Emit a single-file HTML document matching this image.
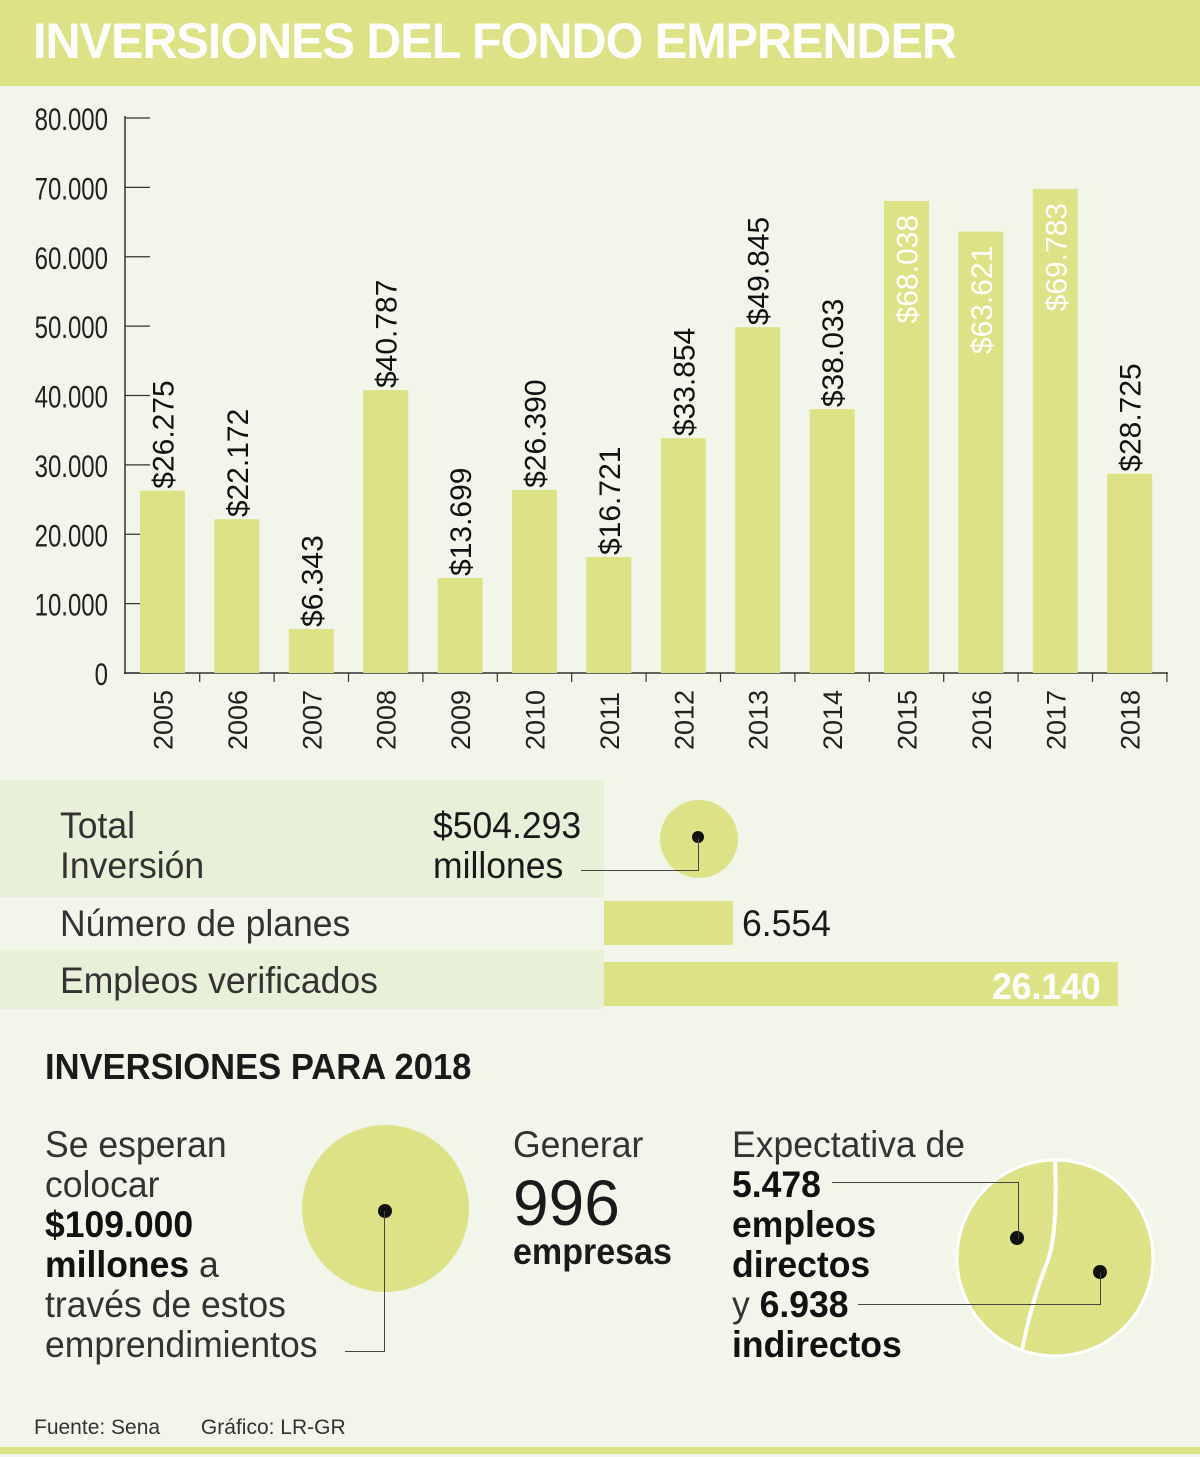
<!DOCTYPE html>
<html><head><meta charset="utf-8"><style>
body{margin:0;width:1200px;height:1457px;background:#f2f6ea;position:relative;overflow:hidden;font-family:"Liberation Sans",sans-serif;color:#1a1a1a}
.abs{position:absolute}
.hdr{left:0;top:0;width:1200px;height:86px;background:#dce285}
.hdr span{position:absolute;left:33px;top:12px;font:bold 50px "Liberation Sans",sans-serif;color:#fff;letter-spacing:-1px;transform:scaleX(0.97);transform-origin:left;white-space:nowrap}
.t{font-size:37px;line-height:40px;transform:scaleX(0.96);transform-origin:left;white-space:nowrap}
.b{font-weight:bold}
</style></head><body>
<div class="abs hdr"><span>INVERSIONES DEL FONDO EMPRENDER</span></div>
<svg class="abs" style="left:0;top:0" width="1200" height="770"><g id="g"></g></svg>

<div class="abs" style="left:0;top:780px;width:604px;height:117px;background:#e8f0da"></div>
<div class="abs" style="left:0;top:950px;width:604px;height:59px;background:#e8f0da"></div>
<div class="abs t" style="left:60px;top:806px;color:#333">Total<br>Inversión</div>
<div class="abs t" style="left:433px;top:806px">$504.293<br>millones</div>
<div class="abs" style="left:660px;top:800px;width:78px;height:78px;border-radius:50%;background:#dce285"></div>
<div class="abs" style="left:692px;top:831px;width:12px;height:12px;border-radius:50%;background:#111"></div>
<div class="abs" style="left:581px;top:838px;width:117px;height:32px;border-right:1.5px solid #444;border-bottom:1.5px solid #444"></div>
<div class="abs t" style="left:60px;top:904px;color:#333">Número de planes</div>
<div class="abs" style="left:604px;top:901px;width:129px;height:44px;background:#dce285"></div>
<div class="abs t" style="left:742px;top:904px">6.554</div>
<div class="abs t" style="left:60px;top:961px;color:#333">Empleos verificados</div>
<div class="abs" style="left:604px;top:962px;width:514px;height:44px;background:#dce285"></div>
<div class="abs t b" style="left:992px;top:967px;color:#fff">26.140</div>

<div class="abs b" style="left:45px;top:1046px;font:bold 36px 'Liberation Sans',sans-serif;transform:scaleX(0.96);transform-origin:left;white-space:nowrap">INVERSIONES PARA 2018</div>
<div class="abs t" style="left:45px;top:1125px;color:#333">Se esperan<br>colocar<br><b style="color:#111">$109.000</b><br><b style="color:#111">millones</b> a<br>través de estos<br>emprendimientos</div>
<div class="abs" style="left:302px;top:1125px;width:167px;height:167px;border-radius:50%;background:#dce285"></div>
<div class="abs" style="left:378px;top:1204px;width:14px;height:14px;border-radius:50%;background:#111"></div>
<div class="abs" style="left:345px;top:1211px;width:39px;height:140px;border-right:1.5px solid #444;border-bottom:1.5px solid #444"></div>
<div class="abs t" style="left:513px;top:1125px;color:#333">Generar</div>
<div class="abs" style="left:513px;top:1170px;font-size:64px;line-height:66px">996</div>
<div class="abs t b" style="left:513px;top:1232px;transform:scaleX(0.92)">empresas</div>
<div class="abs t" style="left:732px;top:1125px;color:#333">Expectativa de<br><b style="color:#111">5.478</b><br><b style="color:#111">empleos</b><br><b style="color:#111">directos</b><br>y <b style="color:#111">6.938</b><br><b style="color:#111">indirectos</b></div>
<svg class="abs" style="left:940px;top:1150px" width="230" height="215">
<circle cx="115" cy="108" r="98" fill="#dce285" stroke="#fff" stroke-width="3"/>
<path d="M115 10 Q118 80 108 110 Q92 150 82 200" fill="none" stroke="#fff" stroke-width="4"/>
<circle cx="77" cy="88" r="7" fill="#111"/><circle cx="160" cy="122" r="7" fill="#111"/>
</svg>
<div class="abs" style="left:832px;top:1182px;width:186px;height:56px;border-top:1.5px solid #444;border-right:1.5px solid #444"></div>
<div class="abs" style="left:858px;top:1272px;width:242px;height:32px;border-right:1.5px solid #444;border-bottom:1.5px solid #444"></div>
<div class="abs" style="left:34px;top:1416px;font-size:21px;color:#333;white-space:nowrap">Fuente: Sena &nbsp;&nbsp;&nbsp;&nbsp;&nbsp; Gráfico: LR-GR</div>
<div class="abs" style="left:0;top:1447px;width:1200px;height:7px;background:#dce285"></div>
<script>
const years=["2005","2006","2007","2008","2009","2010","2011","2012","2013","2014","2015","2016","2017","2018"];
const values=[26275,22172,6343,40787,13699,26390,16721,33854,49845,38033,68038,63621,69783,28725];
const labels=["$26.275","$22.172","$6.343","$40.787","$13.699","$26.390","$16.721","$33.854","$49.845","$38.033","$68.038","$63.621","$69.783","$28.725"];
const ticks=[0,10000,20000,30000,40000,50000,60000,70000,80000];
const tickLabels=["0","10.000","20.000","30.000","40.000","50.000","60.000","70.000","80.000"];
const NS="http://www.w3.org/2000/svg",g=document.getElementById('g');
const y=v=>673-v*555/80000, x=i=>140+i*74.4;
function mk(t,a,txt){const e=document.createElementNS(NS,t);for(const k in a)e.setAttribute(k,a[k]);if(txt!=null)e.textContent=txt;g.appendChild(e);return e;}
const F='"Liberation Sans",sans-serif';
ticks.forEach((v,i)=>{
 let l=mk('line',{x1:125,x2:150,y1:y(v),y2:y(v),stroke:'#333','stroke-width':1.2});
 
 
 let t=mk('text',{x:0,y:0,transform:`translate(108,${y(v)+12}) scale(0.8,1.05)`,'text-anchor':'end','font-size':30,'font-family':F,fill:'#222'},tickLabels[i]);
 
 
});
mk('line',{x1:125,x2:125,y1:116,y2:674,stroke:'#333','stroke-width':1.5});
mk('line',{x1:124,x2:1168,y1:673,y2:673,stroke:'#333','stroke-width':1.5});
values.forEach((v,i)=>{
 const cx=x(i)+22.5;
 let r=mk('rect',{x:x(i),y:y(v),width:45,height:673-y(v),fill:'#dce285'});
 
 
 let tk=mk('line',{x1:x(i)+59.7,x2:x(i)+59.7,y1:673,y2:682,stroke:'#333','stroke-width':1.2});
 
 
 const inside=v>60000;
 const ly=inside?y(v)+14:y(v)-2;
 let lb=mk('text',{x:0,y:0,transform:`translate(${cx+11},${ly}) rotate(-90)`,'text-anchor':inside?'end':'start','font-size':30,'font-family':F,fill:inside?'#fff':'#111'},labels[i]);
 
 
 let yl=mk('text',{x:0,y:0,transform:`translate(${cx+10},750) rotate(-90)`,'font-size':27,'font-family':F,fill:'#222'},years[i]);
 
 
});
</script>
</body></html>
